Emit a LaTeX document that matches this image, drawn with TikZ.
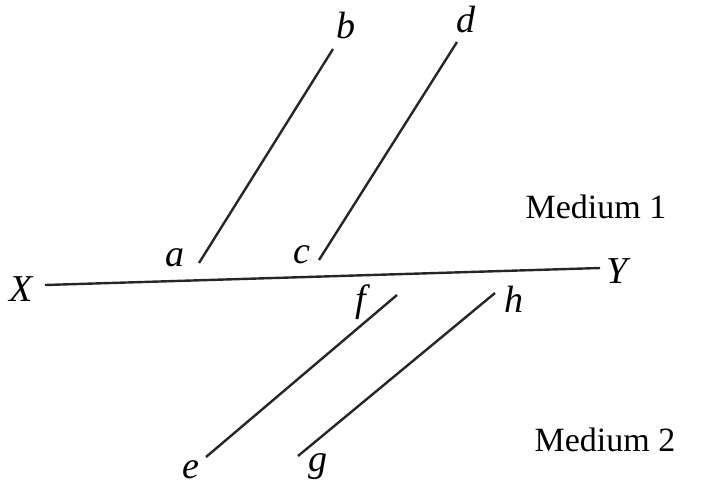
\documentclass[tikz,border=0pt]{standalone}
\usepackage{fontspec}
\setmainfont{Liberation Serif}
\begin{document}
\begin{tikzpicture}[x=1pt,y=-1pt,
  ray/.style={line width=2.4pt, draw=black!85},
  lbl/.style={inner sep=0pt, font=\fontsize{38}{44}\selectfont\itshape},
  med/.style={inner sep=0pt, font=\fontsize{34}{40}\selectfont}]
\useasboundingbox (0,0) rectangle (706,485);
% surface
\coordinate (xl) at (45,285);
\coordinate (yr) at (600,268);
\draw[ray] (xl) -- (yr);
\node[lbl] (X) at (21,289) {X};
\node[lbl] (Y) at (617,271) {Y};
% incident rays
\coordinate (pa) at (199,263);
\coordinate (pb) at (333,49);
\coordinate (pc) at (319,260);
\coordinate (pd) at (457,42);
\draw[ray] (pa) -- (pb);
\draw[ray] (pc) -- (pd);
\node[lbl] (a) at (175,258) {a};
\node[lbl] (b) at (346,26) {b};
\node[lbl] (c) at (302,255) {c};
\node[lbl] (d) at (466,20) {d};
% refracted rays
\coordinate (pf) at (397,295);
\coordinate (pe) at (206,457);
\coordinate (ph) at (495,293);
\coordinate (pg) at (298,456);
\draw[ray] (pf) -- (pe);
\draw[ray] (ph) -- (pg);
\node[lbl] (f) at (361,302) {f};
\node[lbl] (h) at (514,299) {h};
\node[lbl] (e) at (191,470) {e};
\node[lbl] (g) at (318,467) {g};
% media
\node[med] (m1) at (596,207) {Medium 1};
\node[med] (m2) at (605,440) {Medium 2};
\end{tikzpicture}
\end{document}
